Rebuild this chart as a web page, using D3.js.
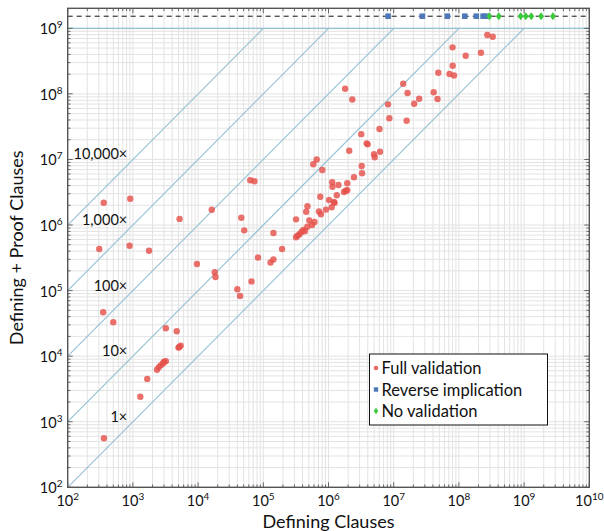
<!DOCTYPE html>
<html>
<head>
<meta charset="utf-8">
<script src="https://cdn.jsdelivr.net/npm/d3@7"></script>
<style>
  body { margin: 0; background: #fff; }
  svg text { font-family: Lato, "DejaVu Sans", sans-serif; fill: #111; }
</style>
</head>
<body>
<svg id="chart" width="604" height="531"></svg>
<script>
// full validation runs: defining clauses vs defining + proof clauses
const fullDefining = [
  360, 1300, 1660, 2340, 2500, 2700, 2900, 3000, 3200, 5000,
  5150, 5400, 3200, 4700, 350, 500, 9600, 1.8e4, 1.85e4, 4.0e4,
  4.4e4, 6.6e4, 8.3e4, 1.29e5, 1.43e5, 305, 890, 1770, 357, 910,
  5200, 1.62e4, 4.6e4, 5.1e4, 6.3e4, 7.3e4, 1.43e5, 1.94e5, 3.18e5, 3.18e5,
  3.35e5, 3.59e5, 3.85e5, 4.11e5, 4.34e5, 4.73e5, 5.59e5, 5.08e5, 6.10e5, 4.76e5,
  4.55e5, 7.14e5, 7.67e5, 9.15e5, 1.12e6, 1.21e6, 1.24e6, 1.02e6, 7.48e5, 1.34e6,
  1.73e6, 1.84e6, 1.94e6, 1.14e6, 1.15e6, 1.42e6, 1.94e6, 2.46e6, 3.23e6, 3.27e6,
  5.85e5, 6.59e5, 8.03e5, 2.08e6, 3.18e6, 3.85e6, 3.99e6, 4.99e6, 5.12e6, 6.17e6,
  6.06e6, 8.18e6, 8.57e6, 1.80e6, 2.32e6, 1.40e7, 1.63e7, 1.58e7, 2.06e7, 2.46e7,
  4.10e7, 4.70e7, 4.83e7, 7.18e7, 8.41e7, 8.03e7, 7.98e7, 1.27e8, 2.18e8, 2.73e8,
  3.30e8
];
const fullTotal = [
  560, 2400, 4500, 6200, 6800, 7300, 7800, 8200, 8400, 1.35e4,
  1.38e4, 1.45e4, 2.66e4, 2.4e4, 4.67e4, 3.3e4, 2.55e5, 1.9e5, 1.61e5, 1.05e5,
  8.3e4, 1.38e5, 3.2e5, 2.68e5, 2.98e5, 4.3e5, 4.84e5, 4.05e5, 2.19e6, 2.52e6,
  1.24e6, 1.71e6, 1.29e6, 8.3e5, 4.83e6, 4.64e6, 7.55e5, 4.3e5, 1.22e6, 6.5e5,
  6.85e5, 7.24e5, 7.83e5, 8.4e5, 8.02e5, 9.42e5, 1.0e6, 1.17e6, 1.11e6, 1.93e6,
  1.59e6, 1.61e6, 1.46e6, 1.72e6, 1.87e6, 2.24e6, 2.18e6, 2.41e6, 2.70e6, 2.85e6,
  3.19e6, 3.34e6, 3.40e6, 4.49e6, 3.83e6, 4.08e6, 4.33e6, 5.35e6, 7.94e6, 6.15e6,
  8.47e6, 1.0e7, 6.9e6, 1.36e7, 2.43e7, 1.76e7, 1.70e7, 1.20e7, 1.08e7, 1.31e7,
  2.91e7, 6.93e7, 4.25e7, 1.20e8, 8.2e7, 1.43e8, 1.03e8, 3.9e7, 7.06e7, 8.44e7,
  1.06e8, 8.35e7, 2.10e8, 2.01e8, 1.91e8, 2.69e8, 5.13e8, 3.81e8, 4.25e8, 7.91e8,
  7.45e8
];
// runs without a checked proof sit on the timeout line
const reverseDefining = [8.2e6, 2.75e7, 6.64e7, 1.23e8, 1.85e8, 2.35e8, 2.61e8];
const noValDefining = [2.94e8, 4.09e8, 8.87e8, 1.06e9, 1.29e9, 1.82e9, 2.77e9];
const timeoutTotal = 1.53e9;
const capTotal = 1e9;

const ratios = [1, 10, 100, 1000, 10000];
const ratioLabels = ["1\u00d7", "10\u00d7", "100\u00d7", "1,000\u00d7", "10,000\u00d7"];
const xExponents = [2, 3, 4, 5, 6, 7, 8, 9, 10];
const yExponents = [2, 3, 4, 5, 6, 7, 8, 9];
const legendLabels = ["Full validation", "Reverse implication", "No validation"];

const red = "#e5504a", blue = "#4f78b8", green = "#3cc83c", diag = "#93c0d4";

const svg = d3.select("#chart");
const pLeft = 67.7, pRight = 589.3, pTop = 8.3, pBottom = 487.3;

var x = d3.scaleLog().domain([1e2, 1e10]).range([pLeft, pRight]);
var y = d3.scaleLog().domain([1e2, 2.02e9]).range([pBottom, pTop]);

// minor grid values
const xMinor = [], yMinor = [];
for (let e = 2; e < 10; e++) for (let m = 1; m < 10; m++) xMinor.push(m * Math.pow(10, e));
xMinor.push(1e10);
for (let e = 2; e <= 9; e++) for (let m = 1; m < 10; m++) {
  const v = m * Math.pow(10, e);
  if (v <= 2.02e9) yMinor.push(v);
}

const grid = svg.append("g");
grid.selectAll(".gx").data(xMinor).enter().append("line")
  .attr("x1", d => x(d)).attr("x2", d => x(d)).attr("y1", pTop).attr("y2", pBottom)
  .attr("stroke", "#e3e3e3").attr("stroke-width", 1);
grid.selectAll(".gy").data(yMinor).enter().append("line")
  .attr("y1", d => y(d)).attr("y2", d => y(d)).attr("x1", pLeft).attr("x2", pRight)
  .attr("stroke", "#e3e3e3").attr("stroke-width", 1);

const defs = svg.append("defs");
defs.append("clipPath").attr("id", "plotclip").append("rect")
  .attr("x", pLeft).attr("y", pTop).attr("width", pRight - pLeft).attr("height", pBottom - pTop);

const plot = svg.append("g").attr("clip-path", "url(#plotclip)");

// ratio diagonals y = k*x, stopping at the 1e9 cap
plot.selectAll(".diag").data(ratios).enter().append("path")
  .attr("d", k => "M" + x(1e2) + "," + y(1e2 * k) + "L" + x(capTotal / k) + "," + y(capTotal))
  .attr("fill", "none").attr("stroke", diag).attr("stroke-width", 1.1);
plot.append("line").attr("x1", pLeft).attr("x2", pRight)
  .attr("y1", y(capTotal)).attr("y2", y(capTotal))
  .attr("stroke", diag).attr("stroke-width", 1.2);
plot.append("line").attr("x1", pLeft).attr("x2", pRight)
  .attr("y1", y(timeoutTotal)).attr("y2", y(timeoutTotal))
  .attr("stroke", "#111").attr("stroke-width", 1).attr("stroke-dasharray", "5,4");

svg.selectAll(".rlab").data(ratios).enter().append("text")
  .attr("x", x(820)).attr("y", k => y(1000 * k))
  .attr("text-anchor", "end").attr("font-size", 14.5)
  .text((k, i) => ratioLabels[i]);

// points
plot.selectAll(".full").data(fullDefining).enter().append("circle")
  .attr("cx", d => x(d)).attr("cy", (d, i) => y(fullTotal[i]))
  .attr("r", 3.2).attr("fill", red).attr("fill-opacity", 0.82);
plot.selectAll(".rev").data(reverseDefining).enter().append("rect")
  .attr("x", d => x(d) - 2.8).attr("y", y(timeoutTotal) - 2.8)
  .attr("width", 5.6).attr("height", 5.6).attr("fill", blue);
plot.selectAll(".noval").data(noValDefining).enter().append("path")
  .attr("d", d => {
    const cx = x(d), cy = y(timeoutTotal);
    return "M" + cx + "," + (cy - 4) + "L" + (cx + 3) + "," + cy + "L" + cx + "," + (cy + 4) + "L" + (cx - 3) + "," + cy + "Z";
  })
  .attr("fill", green);

// ticks inside on all four sides
const ticks = svg.append("g").attr("stroke", "#444").attr("stroke-width", 0.8);
xMinor.forEach(v => {
  const major = Math.abs(Math.log10(v) - Math.round(Math.log10(v))) < 1e-9;
  const len = major ? 5 : 2.8;
  ticks.append("line").attr("x1", x(v)).attr("x2", x(v)).attr("y1", pBottom).attr("y2", pBottom - len);
  ticks.append("line").attr("x1", x(v)).attr("x2", x(v)).attr("y1", pTop).attr("y2", pTop + len);
});
yMinor.forEach(v => {
  const major = Math.abs(Math.log10(v) - Math.round(Math.log10(v))) < 1e-9;
  const len = major ? 5 : 2.8;
  ticks.append("line").attr("y1", y(v)).attr("y2", y(v)).attr("x1", pLeft).attr("x2", pLeft + len);
  ticks.append("line").attr("y1", y(v)).attr("y2", y(v)).attr("x1", pRight).attr("x2", pRight - len);
});

svg.append("rect").attr("x", pLeft).attr("y", pTop)
  .attr("width", pRight - pLeft).attr("height", pBottom - pTop)
  .attr("fill", "none").attr("stroke", "#555").attr("stroke-width", 1.4);

// tick labels 10^n
function powLabel(sel) {
  sel.append("tspan").text("10");
  sel.append("tspan").attr("dy", -6).attr("font-size", 10).text(d => d);
}
svg.selectAll(".xl").data(xExponents).enter().append("text")
  .attr("x", d => x(Math.pow(10, d))).attr("y", 506)
  .attr("text-anchor", "middle").attr("font-size", 14.5)
  .call(powLabel);
svg.selectAll(".yl").data(yExponents).enter().append("text")
  .attr("x", 62.5).attr("y", d => y(Math.pow(10, d)) + 6)
  .attr("text-anchor", "end").attr("font-size", 14.5)
  .call(powLabel);

svg.append("text").attr("x", (pLeft + pRight) / 2).attr("y", 528)
  .attr("text-anchor", "middle").attr("font-size", 18).text("Defining Clauses");
svg.append("text").attr("transform", "translate(23," + ((pTop + pBottom) / 2) + ") rotate(-90)")
  .attr("text-anchor", "middle").attr("font-size", 18).text("Defining + Proof Clauses");

// legend
const lg = svg.append("g").attr("transform", "translate(369.5,354)");
lg.append("rect").attr("width", 178).attr("height", 71)
  .attr("fill", "#fff").attr("stroke", "#111").attr("stroke-width", 1);
legendLabels.forEach((t, i) => {
  const cy = 14 + i * 21.5;
  if (i === 0) lg.append("circle").attr("cx", 6.5).attr("cy", cy).attr("r", 2.3).attr("fill", red).attr("fill-opacity", 0.85);
  if (i === 1) lg.append("rect").attr("x", 4.3).attr("y", cy - 2.2).attr("width", 4.4).attr("height", 4.4).attr("fill", blue);
  if (i === 2) lg.append("path").attr("d", "M6.5," + (cy - 3.2) + "L8.8," + cy + "L6.5," + (cy + 3.2) + "L4.2," + cy + "Z").attr("fill", green);
  lg.append("text").attr("x", 12).attr("y", cy + 6).attr("font-size", 16.5).text(t);
});
</script>
</body>
</html>
